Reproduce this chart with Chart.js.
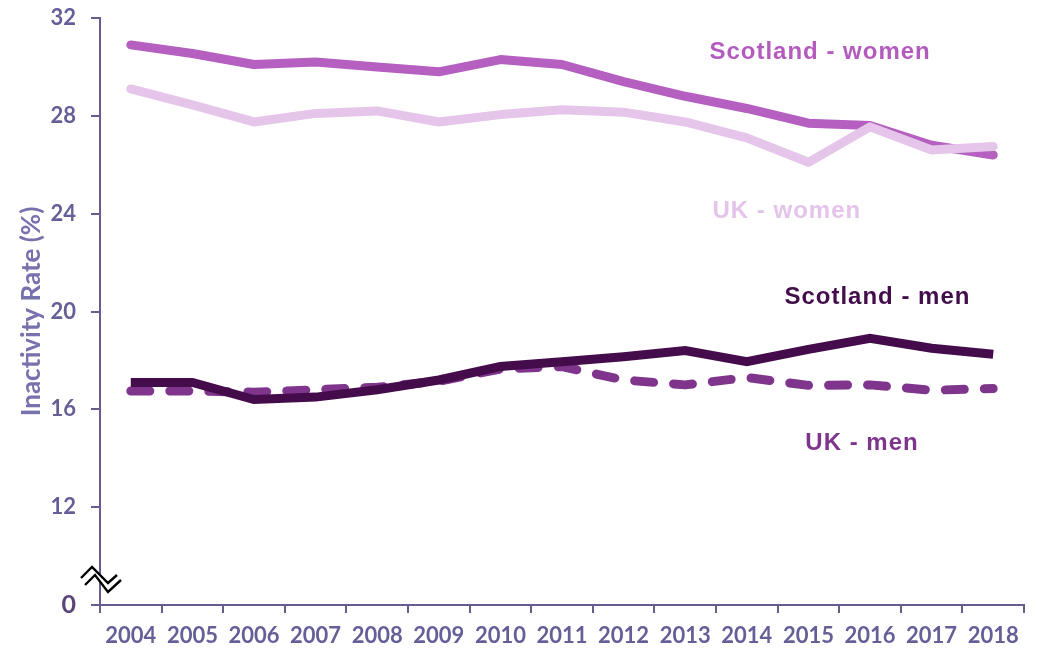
<!DOCTYPE html>
<html>
<head>
<meta charset="utf-8">
<script src="https://cdn.jsdelivr.net/npm/chart.js@4.4.1/dist/chart.umd.min.js"></script>
<style>
  html, body { margin: 0; padding: 0; background: #ffffff; }
  #wrap { width: 1043px; height: 650px; position: relative; }
</style>
</head>
<body>
<div id="wrap"><canvas id="inactivityChart"></canvas></div>
<script>
// Data
const years = ['2004', '2005', '2006', '2007', '2008', '2009', '2010', '2011', '2012', '2013', '2014', '2015', '2016', '2017', '2018'];
const scotlandWomen = [30.9, 30.55, 30.1, 30.2, 30.0, 29.8, 30.3, 30.1, 29.4, 28.8, 28.3, 27.7, 27.6, 26.8, 26.4];
const ukWomen = [29.1, 28.45, 27.75, 28.1, 28.2, 27.75, 28.05, 28.25, 28.15, 27.75, 27.1, 26.1, 27.55, 26.6, 26.75];
const scotlandMen = [17.1, 17.1, 16.4, 16.5, 16.8, 17.2, 17.75, 17.95, 18.15, 18.4, 17.95, 18.45, 18.9, 18.5, 18.25];
const ukMen = [16.75, 16.75, 16.7, 16.8, 16.9, 17.15, 17.65, 17.75, 17.2, 17.0, 17.3, 16.98, 17.0, 16.78, 16.85];

// y axis is broken: the bottom tick (8) is labelled 0
const yMin = 8;
const yMax = 32;
const yStep = 4;

// Series labels placed in data space: [text, category index, value, colour]
const seriesLabels = [
    ['Scotland - women', 11.19, 30.6, '#b35cbe'],
    ['UK - women', 10.65, 24.08, '#e4c4ea'],
    ['Scotland - men', 12.12, 20.57, '#420d4b'],
    ['UK - men', 11.87, 14.6, '#7e368c']
];

const colors = {
    scotlandWomen: '#b55fc0',
    ukWomen: '#e5c5e9',
    scotlandMen: '#450c4b',
    ukMen: '#80358d',
    axis: '#6a5b8f',
    tick: '#655f98',
    title: '#7771ad'
};

// Draws the in-chart series labels and the axis break symbol
const decorations = {
    id: 'decorations',
    afterDatasetsDraw(chart) {
        const ctx = chart.ctx;
        const x = chart.scales.x;
        const y = chart.scales.y;
        ctx.save();
        ctx.font = 'bold 24px "Liberation Sans", Arial, sans-serif';
        ctx.letterSpacing = '1px';
        ctx.textAlign = 'center';
        ctx.textBaseline = 'middle';
        seriesLabels.forEach(([text, idx, val, col]) => {
            ctx.fillStyle = col;
            ctx.fillText(text, x.getPixelForValue(idx), y.getPixelForValue(val));
        });
        ctx.restore();
    },
    afterDraw(chart) {
        const ctx = chart.ctx;
        const l = chart.chartArea.left;
        const b = chart.chartArea.bottom;
        const upper = [[-19, -27], [-8, -38], [8, -22], [17, -30]];
        const lower = [[-15, -20], [-5, -30], [8, -13], [21, -25]];
        ctx.save();
        ctx.beginPath();
        upper.forEach(([dx, dy], i) => i ? ctx.lineTo(l + dx, b + dy) : ctx.moveTo(l + dx, b + dy));
        lower.slice().reverse().forEach(([dx, dy]) => ctx.lineTo(l + dx, b + dy));
        ctx.closePath();
        ctx.fillStyle = '#ffffff';
        ctx.fill();
        ctx.strokeStyle = '#000000';
        ctx.lineWidth = 2.4;
        ctx.lineJoin = 'miter';
        [upper, lower].forEach(pts => {
            ctx.beginPath();
            pts.forEach(([dx, dy], i) => i ? ctx.lineTo(l + dx, b + dy) : ctx.moveTo(l + dx, b + dy));
            ctx.stroke();
        });
        ctx.restore();
    }
};

const lineStyle = {
    borderWidth: 9,
    pointRadius: 0,
    pointHoverRadius: 0,
    tension: 0,
    fill: false,
    borderCapStyle: 'round',
    borderJoinStyle: 'round'
};

const ctx = document.getElementById('inactivityChart').getContext('2d');
new Chart(ctx, {
    type: 'line',
    data: {
        labels: years,
        datasets: [
            { label: 'Scotland - men', data: scotlandMen, borderColor: colors.scotlandMen, ...lineStyle, borderCapStyle: 'butt', borderJoinStyle: 'miter' },
            { label: 'UK - men', data: ukMen, borderColor: colors.ukMen, ...lineStyle, borderDash: [19, 20] },
            { label: 'UK - women', data: ukWomen, borderColor: colors.ukWomen, ...lineStyle },
            { label: 'Scotland - women', data: scotlandWomen, borderColor: colors.scotlandWomen, ...lineStyle }
        ]
    },
    options: {
        responsive: true,
        maintainAspectRatio: false,
        animation: false,
        layout: { padding: { top: 18, right: 19, bottom: 0, left: 0 } },
        plugins: {
            legend: { display: false },
            tooltip: { enabled: false }
        },
        scales: {
            x: {
                offset: true,
                grid: { offset: true, drawOnChartArea: false, drawTicks: true, tickLength: 8, color: colors.axis, lineWidth: 2 },
                border: { display: true, color: colors.axis, width: 2 },
                ticks: {
                    color: colors.tick,
                    font: { family: 'Lato', weight: 'bold', size: 22 },
                    padding: 10,
                    maxRotation: 0,
                    autoSkip: false
                },
                afterFit: scale => {
                    scale.height = 45;
                    scale.paddingLeft = 0;
                    scale.paddingRight = 0;
                }
            },
            y: {
                min: yMin,
                max: yMax,
                grid: { drawOnChartArea: false, drawTicks: true, tickLength: 9, color: colors.axis, lineWidth: 2 },
                border: { display: true, color: colors.axis, width: 2 },
                ticks: {
                    stepSize: yStep,
                    color: c => c.tick && c.tick.value === yMin ? '#5a4478' : colors.tick,
                    font: c => ({ family: 'Lato', weight: 'bold', size: c.tick && c.tick.value === yMin ? 25 : 22 }),
                    padding: 15,
                    callback: v => v === yMin ? '0' : v
                },
                title: {
                    display: true,
                    text: 'Inactivity Rate (%)',
                    color: colors.title,
                    font: { family: 'Lato', weight: 'bold', size: 26 },
                    padding: { top: 16, bottom: 0 }
                },
                afterFit: scale => {
                    scale.width = 100;
                    scale.paddingTop = 0;
                    scale.paddingBottom = 0;
                }
            }
        }
    },
    plugins: [decorations]
});
</script>
</body>
</html>
